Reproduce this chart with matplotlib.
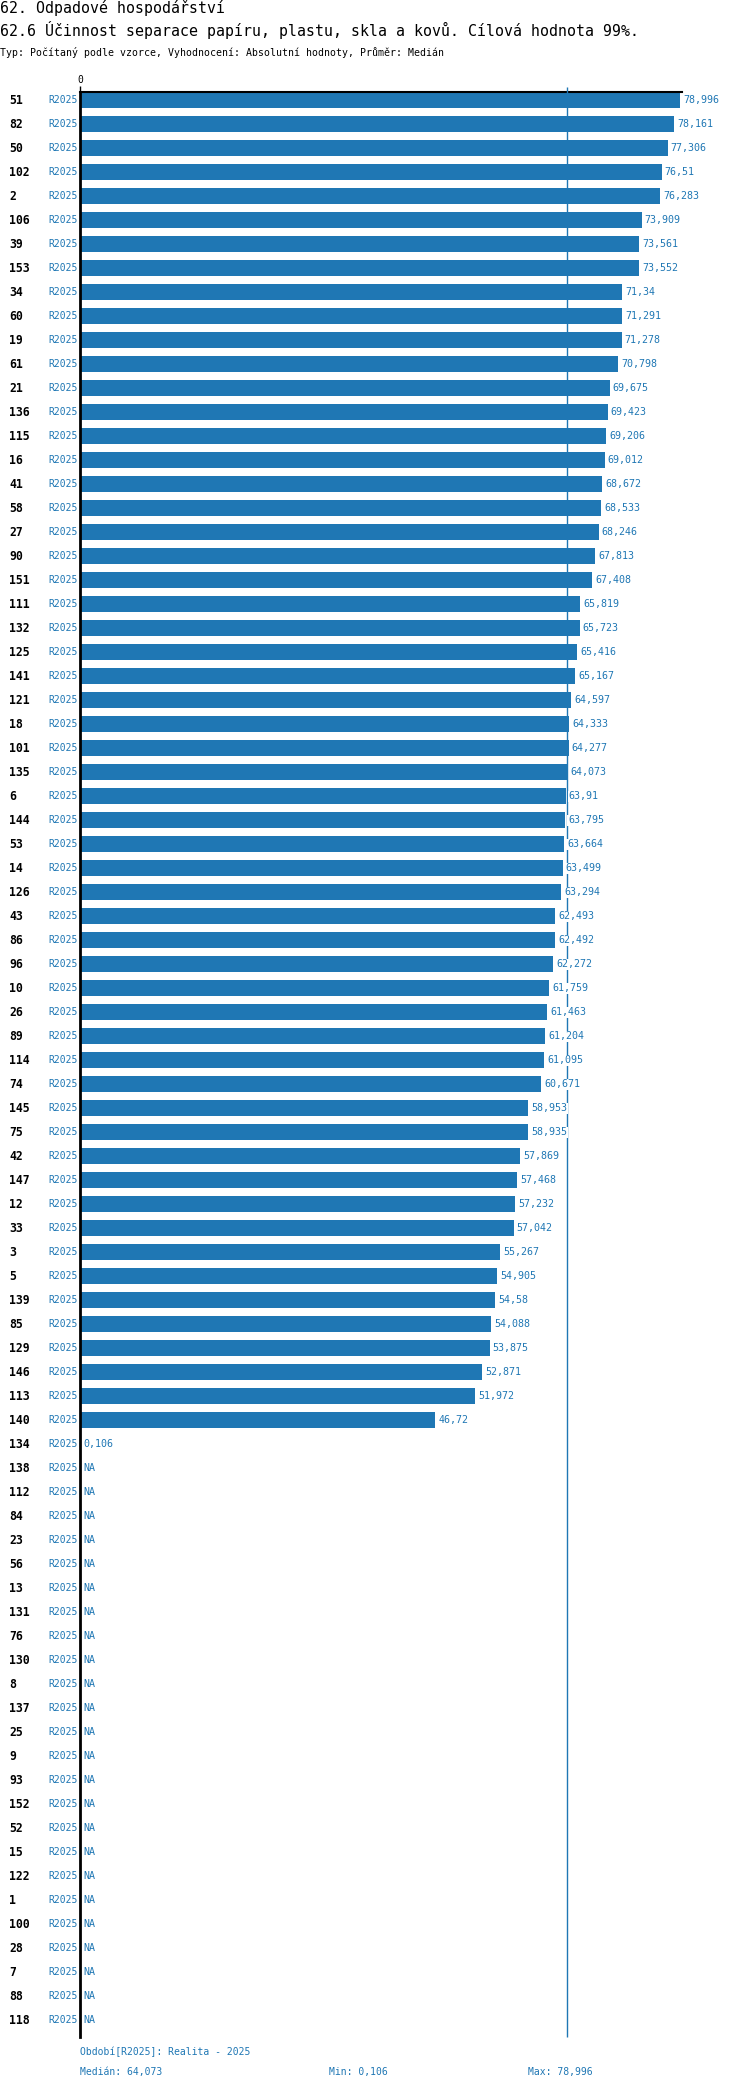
import matplotlib
matplotlib.use("Agg")
import matplotlib.pyplot as plt
import matplotlib.transforms as mtransforms
import numpy as np

ids = ["51", "82", "50", "102", "2", "106", "39", "153", "34", "60", "19", "61", "21", "136",
       "115", "16", "41", "58", "27", "90", "151", "111", "132", "125", "141", "121", "18",
       "101", "135", "6", "144", "53", "14", "126", "43", "86", "96", "10", "26", "89", "114",
       "74", "145", "75", "42", "147", "12", "33", "3", "5", "139", "85", "129", "146", "113",
       "140", "134",
       "138", "112", "84", "23", "56", "13", "131", "76", "130", "8", "137", "25", "9", "93",
       "152", "52", "15", "122", "1", "100", "28", "7", "88", "118"]
values = [78.996, 78.161, 77.306, 76.51, 76.283, 73.909, 73.561, 73.552, 71.34, 71.291,
          71.278, 70.798, 69.675, 69.423, 69.206, 69.012, 68.672, 68.533, 68.246, 67.813,
          67.408, 65.819, 65.723, 65.416, 65.167, 64.597, 64.333, 64.277, 64.073, 63.91,
          63.795, 63.664, 63.499, 63.294, 62.493, 62.492, 62.272, 61.759, 61.463, 61.204,
          61.095, 60.671, 58.953, 58.935, 57.869, 57.468, 57.232, 57.042, 55.267, 54.905,
          54.58, 54.088, 53.875, 52.871, 51.972, 46.72, 0.106] + [None] * 24
period = "R2025"
median_value = 64.073
min_value = 0.106
max_value = 78.996

title1 = "62. Odpadové hospodářství"
title2 = "62.6 Účinnost separace papíru, plastu, skla a kovů. Cílová hodnota 99%."
subtitle = "Typ: Počítaný podle vzorce, Vyhodnocení: Absolutní hodnoty, Průměr: Medián"
foot1 = "Období[R2025]: Realita - 2025"
foot_median = "Medián: 64,073"
foot_min = "Min: 0,106"
foot_max = "Max: 78,996"

BLUE = "#1f77b4"
MONO = ["DejaVu Sans Mono"]

W, H = 750, 2096
fig = plt.figure(figsize=(W / 100, H / 100), dpi=100)

n = len(ids)
ytop, ybot = -0.34, n - 1 + 0.7
row_px = 24.0
ax_top_px = 92
ax_h_px = (ybot - ytop) * row_px
ax_left_px = 80
xmax = 79.2
ax_w_px = 602
ax = fig.add_axes([ax_left_px / W, 1 - (ax_top_px + ax_h_px) / H, ax_w_px / W, ax_h_px / H])

pos = np.arange(n)
bar_vals = [v if v is not None else 0 for v in values]
ax.barh(pos, bar_vals, height=0.67, color=BLUE, zorder=2)
ax.set_ylim(ybot, ytop)
ax.set_xlim(0, xmax)

for s in ["right", "bottom"]:
    ax.spines[s].set_visible(False)
ax.spines["left"].set_linewidth(2)
ax.spines["top"].set_linewidth(1.5)
ax.set_yticks([])
ax.xaxis.tick_top()
ax.set_xticks([0])
ax.set_xticklabels(["0"], fontfamily=MONO, fontsize=7)
ax.tick_params(axis="x", length=4, width=1, pad=1)

ax.vlines(median_value, ybot, ytop - 0.2, color=BLUE, linewidth=1, clip_on=False, zorder=3)

def fmt(v):
    s = f"{v:.3f}".rstrip("0").rstrip(".")
    return s.replace(".", ",")

for i, v in enumerate(values):
    label = "NA" if v is None else fmt(v)
    x = 0 if v is None else v
    ax.annotate(label, (x, i), xytext=(2.2, 0), textcoords="offset points",
                va="center", ha="left", color=BLUE, fontsize=7.2, fontfamily=MONO,
                zorder=4,
                bbox=dict(boxstyle="square,pad=0.05", facecolor="white", edgecolor="none"))

trans = mtransforms.blended_transform_factory(fig.transFigure, ax.transData)
for i, name in enumerate(ids):
    ax.text(9 / W, i, name, transform=trans, ha="left", va="center",
            fontsize=8.3, fontweight="bold", fontfamily=MONO, color="black")
    ax.text(77.5 / W, i, period, transform=trans, ha="right", va="center",
            fontsize=7, fontfamily=MONO, color=BLUE)

fig.text(0, 1 - 8 / H, title1, ha="left", va="center", fontsize=10.7, fontfamily=MONO)
fig.text(0, 1 - 30 / H, title2, ha="left", va="center", fontsize=10.7, fontfamily=MONO)
fig.text(0, 1 - 52 / H, subtitle, ha="left", va="center", fontsize=7.1, fontfamily=MONO)

fig.text(80 / W, 1 - 2052 / H, foot1, ha="left", va="center", fontsize=7, fontfamily=MONO, color=BLUE)
fig.text(80 / W, 1 - 2072 / H, foot_median, ha="left", va="center", fontsize=7, fontfamily=MONO, color=BLUE)
fig.text(329 / W, 1 - 2072 / H, foot_min, ha="left", va="center", fontsize=7, fontfamily=MONO, color=BLUE)
fig.text(528 / W, 1 - 2072 / H, foot_max, ha="left", va="center", fontsize=7, fontfamily=MONO, color=BLUE)

fig.savefig("out.png", dpi=100)
